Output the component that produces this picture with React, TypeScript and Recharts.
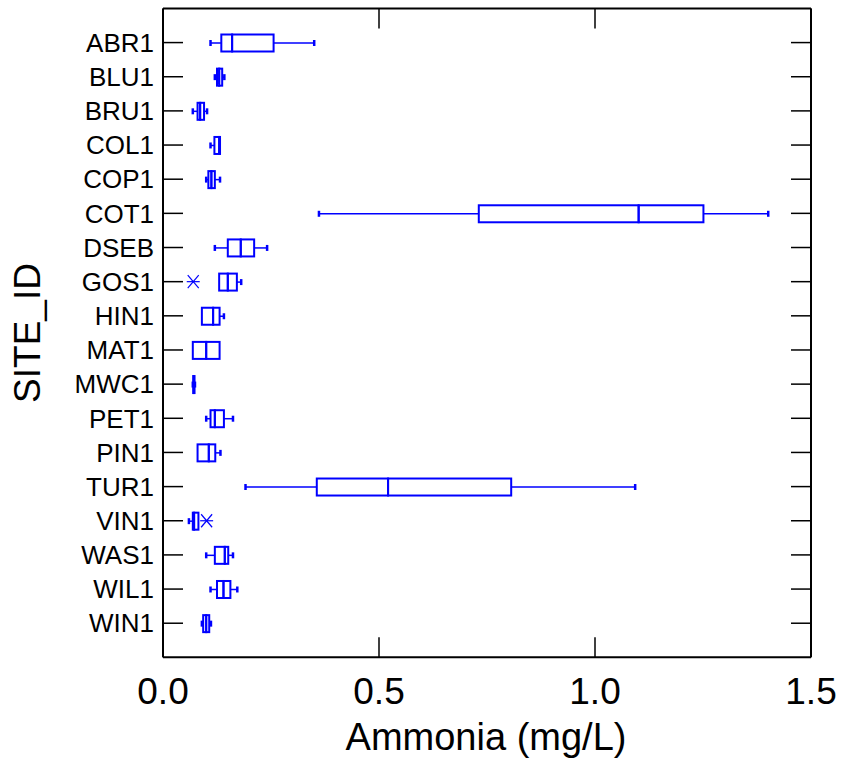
import React from 'react';
import { ComposedChart, Bar, Scatter, XAxis, YAxis, Label } from 'recharts';

const SITES = ['ABR1', 'BLU1', 'BRU1', 'COL1', 'COP1', 'COT1', 'DSEB', 'GOS1', 'HIN1', 'MAT1', 'MWC1', 'PET1', 'PIN1', 'TUR1', 'VIN1', 'WAS1', 'WIL1', 'WIN1'];
const MINS = [0.110, 0.120, 0.069, 0.110, 0.100, 0.361, 0.120, 0.130, 0.090, 0.069, 0.069, 0.100, 0.080, 0.191, 0.060, 0.100, 0.110, 0.090];
const Q1S = [0.135, 0.125, 0.080, 0.119, 0.105, 0.731, 0.150, 0.130, 0.090, 0.069, 0.070, 0.110, 0.080, 0.356, 0.069, 0.120, 0.125, 0.093];
const MEDIANS = [0.160, 0.130, 0.086, 0.130, 0.112, 1.101, 0.180, 0.150, 0.116, 0.100, 0.071, 0.120, 0.106, 0.521, 0.072, 0.143, 0.140, 0.100];
const Q3S = [0.256, 0.137, 0.095, 0.132, 0.120, 1.251, 0.211, 0.171, 0.131, 0.131, 0.073, 0.141, 0.121, 0.806, 0.082, 0.151, 0.156, 0.107];
const MAXS = [0.350, 0.142, 0.102, 0.132, 0.132, 1.401, 0.241, 0.181, 0.141, 0.131, 0.074, 0.162, 0.133, 1.093, 0.082, 0.162, 0.172, 0.111];
const OUTLIERS: (number | null)[] = [null, null, null, null, null, null, null, 0.070, null, null, null, null, null, null, 0.101, null, null, null];
const X_TICKS = [0, 0.5, 1.0, 1.5];

const BLUE = '#0000ff';
const FONT = '"Liberation Sans", Arial, Helvetica, sans-serif';

const data = SITES.map((site, i) => ({
  site,
  base: MINS[i],
  lowW: Q1S[i] - MINS[i],
  boxLo: MEDIANS[i] - Q1S[i],
  boxHi: Q3S[i] - MEDIANS[i],
  highW: MAXS[i] - Q3S[i],
  out: OUTLIERS[i],
  mid: MEDIANS[i],
}));

const Empty = () => <g />;

const whisker = (side: 'low' | 'high') => (props: any) => {
  const { x, y, width, height } = props;
  if (!(width > 0.01)) return <g />;
  const cy = y + height / 2;
  const capX = side === 'low' ? x : x + width;
  return (
    <g>
      <line x1={x} x2={x + width} y1={cy} y2={cy} stroke={BLUE} strokeWidth={1.5} />
      <line x1={capX} x2={capX} y1={cy - 3} y2={cy + 3} stroke={BLUE} strokeWidth={2.5} />
    </g>
  );
};

const BoxShape = (props: any) => {
  const { x, y, width, height } = props;
  if (width == null || isNaN(width)) return <g />;
  return <rect x={x} y={y} width={Math.max(width, 0)} height={height} fill="none" stroke={BLUE} strokeWidth={2} />;
};

const Asterisk = (props: any) => {
  const { cx, cy } = props;
  if (cx == null || cy == null || !isFinite(cx) || !isFinite(cy)) return <g />;
  return (
    <g stroke={BLUE} strokeWidth={1.2}>
      <line x1={cx - 6.5} x2={cx + 6.5} y1={cy} y2={cy} />
      <line x1={cx - 5.5} x2={cx + 5.5} y1={cy - 6.5} y2={cy + 6.5} />
      <line x1={cx - 5.5} x2={cx + 5.5} y1={cy + 6.5} y2={cy - 6.5} />
    </g>
  );
};

const axisLine = { stroke: '#000', strokeWidth: 2 };
const tickLine = { stroke: '#000', strokeWidth: 1.5 };

export default function App() {
  return (
    <div style={{ position: 'absolute', left: 0, top: 0, background: '#fff', fontFamily: FONT }}>
      <ComposedChart
        width={842}
        height={759}
        data={data}
        layout="vertical"
        margin={{ top: 7.5, right: 30, left: 0, bottom: 0 }}
        barCategoryGap={0}
      >
        <XAxis
          xAxisId="bottom"
          type="number"
          orientation="bottom"
          domain={[0, 1.5]}
          ticks={X_TICKS}
          interval={0}
          allowDataOverflow
          height={101.7}
          tickSize={-20}
          tickMargin={40}
          axisLine={axisLine}
          tickLine={tickLine}
          tick={{ fill: '#000', fontSize: 37, fontFamily: FONT }}
          tickFormatter={(v: number) => v.toFixed(1)}
        >
          <Label
            content={() => (
              <text x={486} y={750} textAnchor="middle" fontSize={38} fontFamily={FONT} fill="#000">
                Ammonia (mg/L)
              </text>
            )}
          />
        </XAxis>
        <XAxis
          xAxisId="top"
          type="number"
          orientation="top"
          domain={[0, 1.5]}
          ticks={X_TICKS}
          interval={0}
          allowDataOverflow
          height={1}
          tickSize={-20}
          axisLine={axisLine}
          tickLine={tickLine}
          tick={Empty}
        />
        <YAxis
          yAxisId="left"
          type="category"
          dataKey="site"
          width={163}
          padding={{ top: 17, bottom: 17 }}
          interval={0}
          allowDuplicatedCategory={false}
          tickSize={-20}
          tickMargin={29}
          axisLine={axisLine}
          tickLine={tickLine}
          tick={{ fill: '#000', fontSize: 26, fontFamily: FONT }}
        >
          <Label
            content={() => (
              <text
                x={40}
                y={333}
                transform="rotate(-90, 40, 333)"
                textAnchor="middle"
                fontSize={37}
                fontFamily={FONT}
                fill="#000"
              >
                SITE_ID
              </text>
            )}
          />
        </YAxis>
        <YAxis
          yAxisId="right"
          type="category"
          dataKey="site"
          orientation="right"
          width={1}
          padding={{ top: 17, bottom: 17 }}
          interval={0}
          allowDuplicatedCategory={false}
          tickSize={-20}
          axisLine={axisLine}
          tickLine={tickLine}
          tick={Empty}
        />
        <Bar xAxisId="bottom" yAxisId="left" dataKey="base" stackId="box" barSize={17} shape={Empty} isAnimationActive={false} />
        <Bar xAxisId="bottom" yAxisId="left" dataKey="lowW" stackId="box" barSize={17} shape={whisker('low')} isAnimationActive={false} />
        <Bar xAxisId="bottom" yAxisId="left" dataKey="boxLo" stackId="box" barSize={17} shape={BoxShape} isAnimationActive={false} />
        <Bar xAxisId="bottom" yAxisId="left" dataKey="boxHi" stackId="box" barSize={17} shape={BoxShape} isAnimationActive={false} />
        <Bar xAxisId="bottom" yAxisId="left" dataKey="highW" stackId="box" barSize={17} shape={whisker('high')} isAnimationActive={false} />
        <Scatter xAxisId="bottom" yAxisId="left" dataKey="out" shape={Asterisk} isAnimationActive={false} />
        {/* invisible series so the top and right frame axes get drawn */}
        <Scatter xAxisId="top" yAxisId="right" dataKey="mid" shape={Empty} isAnimationActive={false} />
      </ComposedChart>
    </div>
  );
}
